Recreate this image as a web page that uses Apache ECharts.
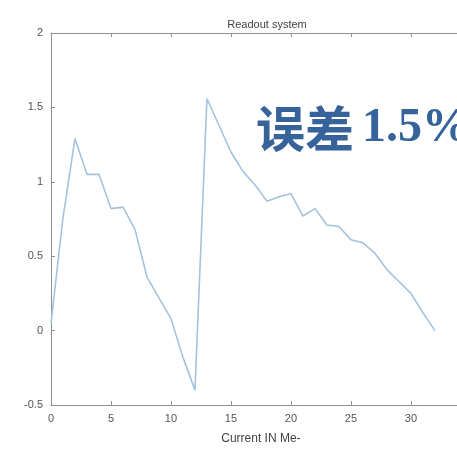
<!DOCTYPE html>
<html><head><meta charset="utf-8">
<script src="https://cdn.jsdelivr.net/npm/echarts@6/dist/echarts.min.js"></script>
<style>html,body{margin:0;padding:0;background:#fff;overflow:hidden;width:457px;height:455px}#c{width:480px;height:455px}</style>
</head><body><div id="c"></div>
<script>
const titleText = 'Readout system';
const xAxisName = 'Current IN Me-';
const overlayCJK = '误差';
const overlayNum = '1.5%';
const xValues = [0,1,2,3,4,5,6,7,8,9,10,11,12,13,14,15,16,17,18,19,20,21,22,23,24,25,26,27,28,29,30,31,32];
const yValues = [0.05,0.76,1.29,1.05,1.05,0.82,0.83,0.68,0.36,0.22,0.08,-0.18,-0.40,1.56,1.38,1.20,1.07,0.98,0.87,0.90,0.92,0.77,0.82,0.71,0.70,0.61,0.59,0.52,0.41,0.33,0.25,0.12,0.00];
const xTicks = [0,5,10,15,20,25,30,35];
const yTicks = [-0.5,0,0.5,1,1.5,2];

const chart = echarts.init(document.getElementById('c'));
const axisColor = '#8f8f8f';
const labelColor = '#555';
function axisBase(){
  return {
    axisLine:{show:true,onZero:false,lineStyle:{color:axisColor,width:1}},
    axisTick:{show:true,inside:true,length:4,lineStyle:{color:axisColor}},
    splitLine:{show:false}
  };
}
chart.setOption({
  backgroundColor:'#fff',
  animation:false,
  title:{text:titleText,left:262,top:14,textAlign:'center',textStyle:{fontFamily:'Liberation Sans',fontSize:11,fontWeight:'normal',color:'#444'}},
  grid:{left:51,right:7,top:33,bottom:50},
  xAxis:[
    Object.assign(axisBase(),{type:'value',min:xTicks[0],max:xTicks[xTicks.length-1],interval:5,position:'bottom',
      name:xAxisName,nameLocation:'middle',nameGap:28,
      nameTextStyle:{fontFamily:'Liberation Sans',fontSize:12,color:'#444'},
      axisLabel:{color:labelColor,fontFamily:'Liberation Sans',fontSize:11,margin:8}}),
    Object.assign(axisBase(),{type:'value',min:xTicks[0],max:xTicks[xTicks.length-1],interval:5,position:'top',axisLabel:{show:false}})
  ],
  yAxis:[
    Object.assign(axisBase(),{type:'value',min:yTicks[0],max:yTicks[yTicks.length-1],interval:0.5,position:'left',
      axisLabel:{color:labelColor,fontFamily:'Liberation Sans',fontSize:11,margin:8}}),
    Object.assign(axisBase(),{type:'value',min:yTicks[0],max:yTicks[yTicks.length-1],interval:0.5,position:'right',axisLabel:{show:false}})
  ],
  series:[{
    type:'line',
    xAxisIndex:0,yAxisIndex:0,
    data:xValues.map((x,i)=>[x,yValues[i]]),
    showSymbol:false,
    lineStyle:{color:'#a3c3de',width:1.6},
    itemStyle:{color:'#a3c3de'}
  }],
  graphic:[{
    type:'text',left:256,top:104,
    style:{
      text:'{a|'+overlayCJK+'}{b|'+overlayNum+'}',
      rich:{
        a:{fill:'#36649a',fontFamily:'"Noto Sans CJK SC", serif',fontWeight:'bold',fontSize:49},
        b:{fill:'#36649a',fontFamily:'"Liberation Serif", serif',fontWeight:'bold',fontSize:48,padding:[0,0,0,8]}
      }
    }
  }]
});
</script></body></html>
